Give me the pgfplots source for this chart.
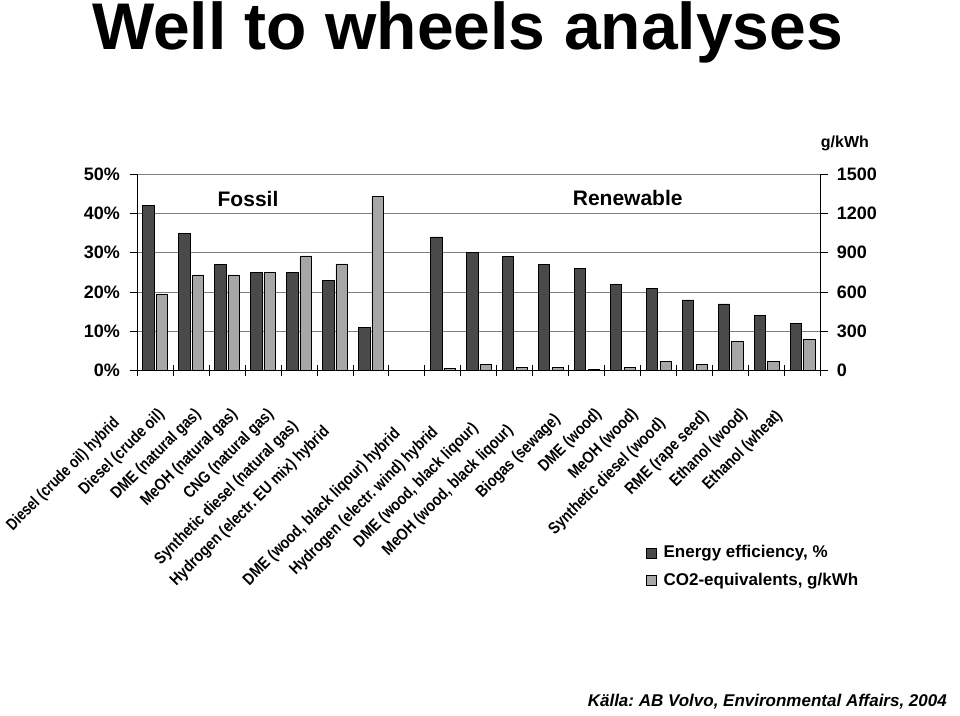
\documentclass[border=0pt]{standalone}
\usepackage{pgfplots}
\pgfplotsset{compat=1.18}
\usepackage{fontspec}
\setmainfont{Liberation Sans}
\newfontfamily\condensed[FakeStretch=0.85]{Liberation Sans}
\definecolor{darkbar}{HTML}{4A4A4A}
\definecolor{lightbar}{HTML}{A6A6A6}
\definecolor{gridgray}{HTML}{808080}

\pgfplotstableread{
x eff
0 42
1 35
2 27
3 25
4 25
5 23
6 11
8 34
9 30
10 29
11 27
12 26
13 22
14 21
15 18
16 17
17 14
18 12
}\efftable

\pgfplotstableread{
x co
0 585
1 730
2 730
3 750
4 875
5 815
6 1330
8 20
9 50
10 25
11 25
12 10
13 25
14 70
15 50
16 225
17 70
18 240
}\cotable

\newcommand{\padr}[1]{\rule{#1pt}{0pt}}

\begin{document}
\frenchspacing
\begin{tikzpicture}[x=1pt,y=1pt]
\path[use as bounding box] (0,0) rectangle (960,715);
\node[anchor=base, inner sep=0pt, text height=48pt, text depth=0pt, font=\fontsize{66}{66}\selectfont\bfseries] at (467.5,665) {Well to wheels analyses};

\begin{axis}[
  at={(137pt,344.3pt)}, anchor=south west, scale only axis,
  width=683.7pt, height=196.7pt,
  xmin=-0.5, xmax=18.5, ymin=0, ymax=50,
  axis x line*=bottom, axis y line*=left,
  axis line style={-, black, line width=0.8pt},
  /pgf/number format/assume math mode=true,
  ytick={0,10,20,30,40,50},
  yticklabel={\pgfmathprintnumber{\tick}\%},
  yticklabel style={font=\fontsize{18}{18}\selectfont\bfseries, inner sep=0pt, anchor=east, xshift=-10pt},
  ymajorgrids, major grid style={gridgray, line width=0.8pt},
  tick align=outside, major tick length=7pt,
  tick style={black, line width=0.8pt},
  xtick={-0.024,0.988,2,3.012,4.024,5.036,6.048,7.06,8.072,9.084,10.096,11.108,12.12,13.132,14.144,15.156,16.168,17.18,18.192},
  major x tick style={draw=none},
  minor xtick={-0.5,0.5,...,18.5},
  minor tick length=11pt,
  minor x tick style={black, line width=0.8pt, yshift=5.5pt},
  xticklabels={
    {\scalebox{0.95}[1]{Diesel (crude oil) hybrid}\padr{12}},
    {Diesel (crude oil)},
    {DME (natural gas)},
    {MeOH (natural gas)},
    {CNG (natural gas)},
    {Synthetic diesel (natural gas)\padr{17}},
    {Hydrogen (electr. EU mix) hybrid\padr{24}},
    {},
    {DME (wood, black liqour) hybrid\padr{27}},
    {Hydrogen (electr. wind) hybrid\padr{25}},
    {DME (wood, black liqour)\padr{20}},
    {MeOH (wood, black liqour)\padr{22}},
    {Biogas (sewage)\padr{7}},
    {DME (wood)},
    {MeOH (wood)},
    {Synthetic diesel (wood)\padr{13}},
    {RME (rape seed)\padr{3}},
    {Ethanol (wood)},
    {Ethanol (wheat)\padr{2}}
  },
  xticklabel style={font=\fontsize{16.5}{16.5}\condensed\bfseries, inner sep=0pt, xshift=-34pt, yshift=-29pt, rotate=45, anchor=north east},
]
\addplot[ybar, bar width=0.314, bar shift=-0.186, fill=darkbar, draw=black, line width=0.6pt] table[x=x, y=eff] {\efftable};
\end{axis}

\begin{axis}[
  at={(137pt,344.3pt)}, anchor=south west, scale only axis,
  width=683.7pt, height=196.7pt,
  xmin=-0.5, xmax=18.5, ymin=0, ymax=1500,
  hide x axis,
  axis y line*=right,
  axis line style={-, black, line width=0.8pt},
  /pgf/number format/assume math mode=true,
  /pgf/number format/1000 sep={},
  ytick={0,300,600,900,1200,1500},
  yticklabel style={font=\fontsize{18}{18}\selectfont\bfseries, inner sep=0pt, anchor=west, xshift=9pt},
  tick align=outside, major tick length=7pt,
  tick style={black, line width=0.8pt},
  legend style={at={(axis description cs:0.7445,-0.8846)}, anchor=north west, draw=none, fill=none,
    inner sep=0pt, outer sep=0pt, row sep=10.3pt, column sep=7pt,
    font=\fontsize{17}{17}\selectfont\bfseries,
    nodes={inner sep=0pt, text height=13pt, text depth=4pt}},
  legend cell align=left,
  legend image code/.code={\draw[#1] (0pt,-5pt) rectangle (10pt,5pt);},
]
\addlegendimage{fill=darkbar, draw=black, line width=0.6pt}
\addlegendentry{Energy efficiency, \%}
\addplot[ybar, bar width=0.314, bar shift=0.186, fill=lightbar, draw=black, line width=0.6pt] table[x=x, y=co] {\cotable};
\addlegendentry{CO2-equivalents, g/kWh}
\end{axis}

\node[anchor=base west, inner sep=0pt, font=\fontsize{16}{16}\selectfont\bfseries] at (820.7,567) {g/kWh};
\node[anchor=base, inner sep=0pt, font=\fontsize{21}{21}\selectfont\bfseries] at (248,508.5) {Fossil};
\node[anchor=base, inner sep=0pt, font=\fontsize{21}{21}\selectfont\bfseries] at (627.7,509) {Renewable};
\node[anchor=base east, inner sep=0pt, font=\fontsize{17}{17}\selectfont\bfseries\itshape] at (947,9) {Källa: AB Volvo, Environmental Affairs, 2004};
\end{tikzpicture}
\end{document}
